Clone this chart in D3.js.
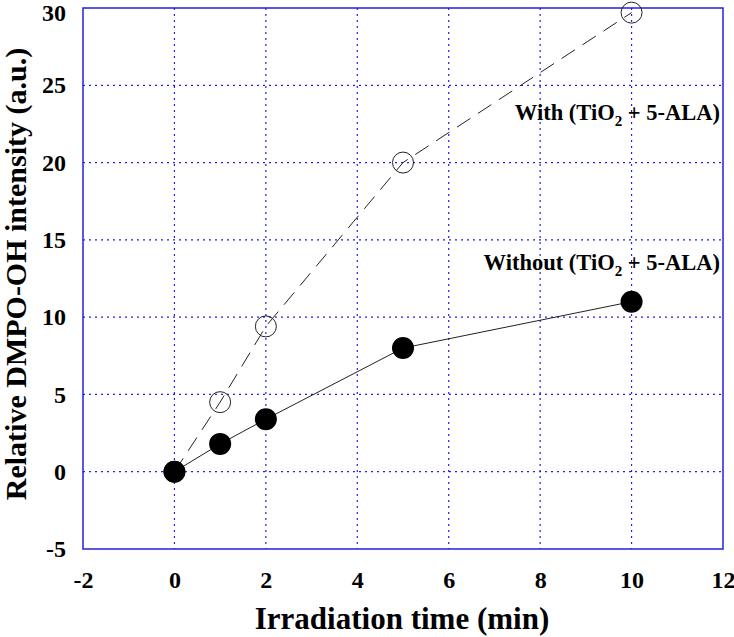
<!DOCTYPE html>
<html><head><meta charset="utf-8">
<script src="https://cdn.jsdelivr.net/npm/d3@7"></script>
<style>body{margin:0;background:#fff}</style>
</head><body><svg id="c" width="734" height="637"></svg>
<script>
const timeMin = [0, 1, 2, 5, 10];
const withValues = [0, 4.5, 9.4, 20, 29.7];
const withoutValues = [0, 1.8, 3.4, 8, 11];
const xTicks = [-2, 0, 2, 4, 6, 8, 10, 12];
const yTicks = [-5, 0, 5, 10, 15, 20, 25, 30];
const labelWith = "With";
const labelWithout = "Without";

const svg = d3.select("#c");
const L = 83, R = 723, T = 8, B = 549;
const x = d3.scaleLinear().domain([-2, 12]).range([L, R]);
const y = d3.scaleLinear().domain([-5, 30]).range([B, T]);
const blue = "#2222dd";
const font = "'Liberation Serif', 'Times New Roman', serif";
const fmt = d => String(d);

// grid
const g = svg.append("g");
g.selectAll(".gx").data(xTicks.slice(1, -1)).join("line")
  .attr("x1", d => x(d)).attr("x2", d => x(d)).attr("y1", T).attr("y2", B)
  .attr("stroke", blue).attr("stroke-width", 1.2).attr("stroke-dasharray", "2,4");
g.selectAll(".gy").data(yTicks.slice(1, -1)).join("line")
  .attr("y1", d => y(d)).attr("y2", d => y(d)).attr("x1", L).attr("x2", R)
  .attr("stroke", blue).attr("stroke-width", 1.2).attr("stroke-dasharray", "2,4");

// frame
svg.append("rect").attr("x", L).attr("y", T).attr("width", R - L).attr("height", B - T)
  .attr("fill", "none").attr("stroke", blue).attr("stroke-width", 1.5);

// axes (labels only)
const xAxis = d3.axisBottom(x).tickValues(xTicks).tickSize(0).tickPadding(22).tickFormat(fmt);
const gx = svg.append("g").attr("transform", `translate(0,${B})`).call(xAxis);
const yAxis = d3.axisLeft(y).tickValues(yTicks).tickSize(0).tickPadding(17).tickFormat(fmt);
const gy = svg.append("g").attr("transform", `translate(${L},0)`).call(yAxis);
[gx, gy].forEach(a => {
  a.select(".domain").remove();
  a.selectAll("text").attr("font-family", font).attr("font-weight", "bold")
    .attr("font-size", 24).attr("fill", "#000");
});
gy.selectAll(".tick").filter(d => d === 30).select("text").attr("dy", "0.5em");

// lines
const line = d3.line().x(d => x(d[0])).y(d => y(d[1]));
const withData = timeMin.map((t, i) => [t, withValues[i]]);
const withoutData = timeMin.map((t, i) => [t, withoutValues[i]]);
svg.append("path").datum(withData).attr("d", line).attr("fill", "none")
  .attr("stroke", "#222").attr("stroke-width", 1).attr("stroke-dasharray", "16,9");
svg.append("path").datum(withoutData).attr("d", line).attr("fill", "none")
  .attr("stroke", "#222").attr("stroke-width", 1);

// markers
svg.selectAll(".ow").data(withData).join("circle")
  .attr("cx", d => x(d[0])).attr("cy", d => y(d[1])).attr("r", 10.5)
  .attr("fill", "none").attr("stroke", "#222").attr("stroke-width", 1);
svg.selectAll(".fw").data(withoutData).join("circle")
  .attr("cx", d => x(d[0])).attr("cy", d => y(d[1])).attr("r", 11)
  .attr("fill", "#000");

// annotations
function ann(prefix, yy) {
  const t = svg.append("text").attr("x", 720).attr("y", yy).attr("text-anchor", "end")
    .attr("font-family", font).attr("font-weight", "bold").attr("font-size", 22.5).attr("fill", "#000");
  t.append("tspan").text(prefix + "  (TiO");
  t.append("tspan").attr("font-size", 15).attr("dy", 6).text("2");
  t.append("tspan").attr("dy", -6).text(" + 5-ALA)");
}
ann(labelWith, 120);
ann(labelWithout, 270);

// axis titles
svg.append("text").attr("x", 402).attr("y", 629).attr("text-anchor", "middle")
  .attr("font-family", font).attr("font-weight", "bold").attr("font-size", 31)
  .text("Irradiation time (min)");
svg.append("text").attr("transform", `translate(26,274) rotate(-90)`)
  .attr("text-anchor", "middle")
  .attr("font-family", font).attr("font-weight", "bold").attr("font-size", 30)
  .text("Relative DMPO-OH intensity (a.u.)");
</script></body></html>
